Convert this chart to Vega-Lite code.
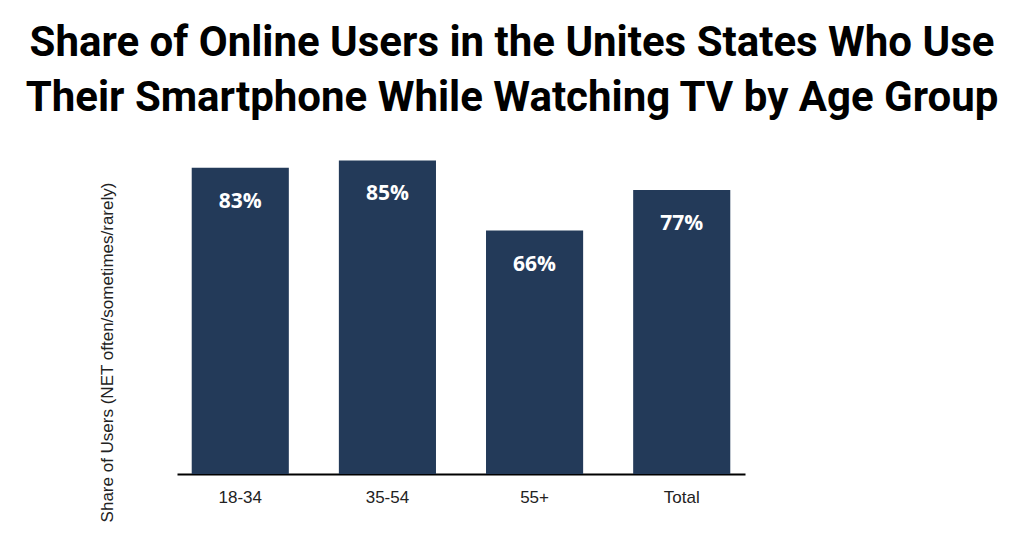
{
  "$schema": "https://vega.github.io/schema/vega-lite/v6.json",
  "width": 568,
  "height": 332,
  "autosize": {"type": "none"},
  "padding": {"left": 177, "top": 142, "right": 279, "bottom": 69},
  "background": "white",
  "title": {
    "text": ["Share of Online Users in the Unites States Who Use", "Their Smartphone While Watching TV by Age Group"],
    "fontSize": 42,
    "fontWeight": "bold",
    "font": "Roboto",
    "color": "#000000",
    "lineHeight": 55,
    "anchor": "middle",
    "dx": 51,
    "offset": 22
  },
  "data": {
    "values": [
      {"group": "18-34", "share": 0.83},
      {"group": "35-54", "share": 0.85},
      {"group": "55+", "share": 0.66},
      {"group": "Total", "share": 0.77}
    ]
  },
  "encoding": {
    "x": {
      "field": "group",
      "type": "nominal",
      "sort": null,
      "scale": {"paddingInner": 0.34, "paddingOuter": 0.1},
      "axis": {
        "title": null,
        "labelAngle": 0,
        "labelFont": "Liberation Sans",
        "labelFontSize": 17,
        "labelColor": "#222222",
        "labelPadding": 15,
        "ticks": false,
        "domainColor": "#000000",
        "domainWidth": 2
      }
    },
    "y": {
      "field": "share",
      "type": "quantitative",
      "scale": {"domain": [0, 0.9], "nice": false},
      "axis": {
        "title": "Share of Users (NET often/sometimes/rarely)",
        "titleFont": "Liberation Sans",
        "titleFontSize": 17,
        "titleFontWeight": "normal",
        "titleColor": "#222222",
        "titleX": -70,
        "titleY": 210,
        "titleAngle": -90,
        "titleAlign": "center",
        "titleBaseline": "middle",
        "labels": false,
        "ticks": false,
        "domain": false,
        "grid": false
      }
    }
  },
  "layer": [
    {"mark": {"type": "bar", "color": "#233a59"}},
    {
      "mark": {
        "type": "text",
        "color": "white",
        "font": "Open Sans",
        "fontSize": 21,
        "fontWeight": "bold",
        "baseline": "middle",
        "dy": 34
      },
      "encoding": {
        "text": {"field": "share", "type": "quantitative", "format": ".0%"}
      }
    }
  ],
  "config": {"view": {"stroke": null}}
}
